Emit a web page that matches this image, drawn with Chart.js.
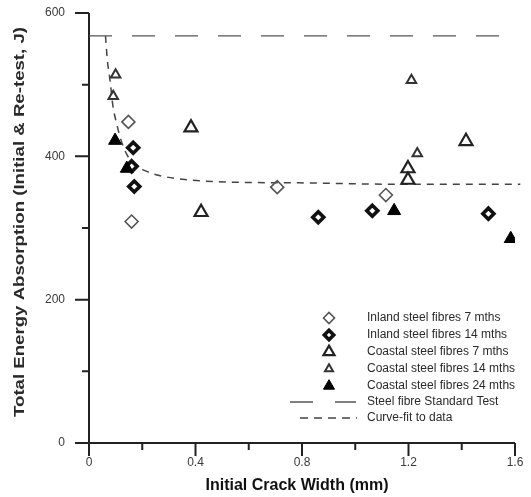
<!DOCTYPE html>
<html>
<head>
<meta charset="utf-8">
<script src="https://cdn.jsdelivr.net/npm/chart.js@4.4.1/dist/chart.umd.min.js"></script>
<style>
  html, body { margin: 0; padding: 0; background: #fff; }
  canvas { display: block; }
</style>
</head>
<body>
<canvas id="crackChart" width="531" height="497"></canvas>
<script>
  // values
  var inland7X = [0.148, 0.160, 0.707, 1.115];
  var inland7Y = [448, 309, 357, 346];
  var inland14X = [0.166, 0.160, 0.170, 0.861, 1.064, 1.500];
  var inland14Y = [412, 386, 358, 315, 324, 320];
  var coastal7X = [0.383, 0.421, 1.198, 1.198, 1.416];
  var coastal7Y = [440, 322, 383, 367, 421];
  var coastal14X = [0.100, 0.091, 1.211, 1.233];
  var coastal14Y = [514, 484, 506, 404];
  var coastal24X = [0.098, 0.142, 1.146, 1.584];
  var coastal24Y = [422, 383, 324, 285];
  var standardX = [0, 1.54];
  var standardY = [568, 568];
  var fitX = [0.062, 0.069, 0.079, 0.090, 0.105, 0.120, 0.143, 0.173, 0.210, 0.267, 0.379, 0.530, 0.790, 1.170, 1.620];
  var fitY = [568, 534, 506, 470, 444, 423, 402, 388, 380, 373, 367, 364, 363, 361, 361];

  var xMajor = [0, 0.4, 0.8, 1.2, 1.6];
  var xMinor = [0.2, 0.6, 1.0, 1.4];
  var yMajor = [0, 200, 400, 600];
  var yMinor = [100, 300, 500];

  var legendLabels = [
    'Inland steel fibres 7 mths',
    'Inland steel fibres 14 mths',
    'Coastal steel fibres 7 mths',
    'Coastal steel fibres 14 mths',
    'Coastal steel fibres 24 mths',
    'Steel fibre Standard Test',
    'Curve-fit to data'
  ];

  function pts(xs, ys) {
    return xs.map(function (x, i) { return { x: x, y: ys[i] }; });
  }

  Chart.defaults.font.family = "'Liberation Sans', Arial, sans-serif";
  Chart.defaults.font.size = 12;
  Chart.defaults.color = '#3a3a3a';

  var datasets = [
    { label: legendLabels[0], data: pts(inland7X, inland7Y), pointStyle: 'rectRot', pointRadius: 6.5,
      pointBorderWidth: 1.6, pointBorderColor: '#555', pointBackgroundColor: 'rgba(0,0,0,0)', order: 3 },
    { label: legendLabels[1], data: pts(inland14X, inland14Y), pointStyle: 'rectRot', pointRadius: 5.5,
      pointBorderWidth: 3.6, pointBorderColor: '#111', pointBackgroundColor: '#fff', order: 2 },
    { label: legendLabels[2], data: pts(coastal7X, coastal7Y), pointStyle: 'triangle', pointRadius: 7.5,
      pointBorderWidth: 2.2, pointBorderColor: '#222', pointBackgroundColor: 'rgba(0,0,0,0)', order: 3 },
    { label: legendLabels[3], data: pts(coastal14X, coastal14Y), pointStyle: 'triangle', pointRadius: 5.5,
      pointBorderWidth: 2, pointBorderColor: '#333', pointBackgroundColor: 'rgba(0,0,0,0)', order: 3 },
    { label: legendLabels[4], data: pts(coastal24X, coastal24Y), pointStyle: 'triangle', pointRadius: 7.5,
      pointBorderWidth: 1, pointBorderColor: '#000', pointBackgroundColor: '#000', order: 1 },
    { label: legendLabels[5], data: pts(standardX, standardY), showLine: true, pointRadius: 0,
      borderColor: '#555', borderWidth: 1.3, borderDash: [23, 20], order: 5 },
    { label: legendLabels[6], data: pts(fitX, fitY), showLine: true, pointRadius: 0, clip: false,
      borderColor: '#444', borderWidth: 1.5, borderDash: [7, 6], tension: 0.4,
      cubicInterpolationMode: 'monotone', order: 5 }
  ];

  function markerPath(ctx, style, r, x, y) {
    ctx.beginPath();
    if (style === 'rectRot') {
      ctx.moveTo(x - r, y); ctx.lineTo(x, y - r); ctx.lineTo(x + r, y); ctx.lineTo(x, y + r);
    } else {
      for (var k = 0; k < 3; k++) {
        var a = k * 2 * Math.PI / 3;
        var px = x + Math.sin(a) * r, py = y - Math.cos(a) * r;
        if (k === 0) ctx.moveTo(px, py); else ctx.lineTo(px, py);
      }
    }
    ctx.closePath();
  }

  var paperPlugin = {
    id: 'paperLook',
    beforeDatasetsDraw: function (chart) {
      var ctx = chart.ctx, xs = chart.scales.x, ys = chart.scales.y;
      var left = xs.getPixelForValue(0), right = xs.getPixelForValue(1.6);
      var bottom = ys.getPixelForValue(0), top = ys.getPixelForValue(600);
      ctx.save();
      ctx.strokeStyle = '#222';
      ctx.lineWidth = 2;
      ctx.beginPath();
      ctx.moveTo(left, top); ctx.lineTo(left, bottom); ctx.lineTo(right, bottom);
      xMajor.forEach(function (v) { var p = xs.getPixelForValue(v); ctx.moveTo(p, bottom); ctx.lineTo(p, bottom + 13); });
      xMinor.forEach(function (v) { var p = xs.getPixelForValue(v); ctx.moveTo(p, bottom); ctx.lineTo(p, bottom + 7); });
      yMajor.forEach(function (v) { var p = ys.getPixelForValue(v); ctx.moveTo(left, p); ctx.lineTo(left - 14, p); });
      yMinor.forEach(function (v) { var p = ys.getPixelForValue(v); ctx.moveTo(left, p); ctx.lineTo(left - 7, p); });
      ctx.stroke();
      ctx.restore();
    },
    afterDraw: function (chart) {
      var ctx = chart.ctx;
      ctx.save();
      ctx.fillStyle = '#111';
      // x title
      ctx.font = "bold 16px 'Liberation Sans', Arial, sans-serif";
      ctx.textAlign = 'center';
      ctx.textBaseline = 'middle';
      ctx.fillText('Initial Crack Width (mm)', 297, 486);
      // y title (scan is stretched along the axis)
      var yTitle = 'Total Energy Absorption (Initial & Re-test, J)';
      ctx.font = "bold 14px 'Liberation Sans', Arial, sans-serif";
      var w = ctx.measureText(yTitle).width;
      ctx.translate(20, 222);
      ctx.rotate(-Math.PI / 2);
      ctx.scale(390 / w, 1);
      ctx.fillStyle = '#2a2a2a';
      ctx.fillText(yTitle, 0, 0);
      ctx.restore();

      // legend inside plot
      ctx.save();
      var rowY = [318, 335, 352, 369, 386, 402, 418];
      ctx.font = "12px 'Liberation Sans', Arial, sans-serif";
      ctx.textBaseline = 'middle';
      ctx.textAlign = 'left';
      for (var i = 0; i < 5; i++) {
        var ds = datasets[i];
        var r = ds.pointRadius * 0.85;
        markerPath(ctx, ds.pointStyle, r, 329, rowY[i]);
        ctx.fillStyle = ds.pointBackgroundColor;
        ctx.fill();
        ctx.lineWidth = ds.pointBorderWidth;
        ctx.strokeStyle = ds.pointBorderColor;
        ctx.stroke();
      }
      ctx.strokeStyle = '#555';
      ctx.lineWidth = 1.3;
      ctx.setLineDash([23, 22]);
      ctx.beginPath(); ctx.moveTo(290, rowY[5]); ctx.lineTo(356, rowY[5]); ctx.stroke();
      ctx.strokeStyle = '#444';
      ctx.lineWidth = 1.5;
      ctx.setLineDash([8, 6]);
      ctx.beginPath(); ctx.moveTo(300, rowY[6]); ctx.lineTo(357, rowY[6]); ctx.stroke();
      ctx.setLineDash([]);
      ctx.fillStyle = '#2a2a2a';
      for (var j = 0; j < legendLabels.length; j++) {
        ctx.fillText(legendLabels[j], 367, rowY[j]);
      }
      ctx.restore();
    }
  };

  var ctxC = document.getElementById('crackChart').getContext('2d');
  var crackChart = new Chart(ctxC, {
    type: 'scatter',
    data: { datasets: datasets },
    plugins: [paperPlugin],
    options: {
      responsive: false,
      animation: false,
      layout: { padding: { top: 13, right: 16, left: 0, bottom: 0 } },
      plugins: { legend: { display: false }, tooltip: { enabled: false } },
      scales: {
        x: {
          type: 'linear', min: 0, max: 1.6,
          grid: { display: false, drawTicks: false },
          border: { display: false },
          afterBuildTicks: function (s) { s.ticks = xMajor.map(function (v) { return { value: v }; }); },
          afterFit: function (s) { s.height = 54; s.paddingLeft = 0; s.paddingRight = 0; },
          ticks: {
            padding: 12, maxRotation: 0, autoSkip: false,
            callback: function (v) { return v === 0 ? '0' : v.toFixed(1); }
          }
        },
        y: {
          type: 'linear', min: 0, max: 600,
          grid: { display: false, drawTicks: false },
          border: { display: false },
          afterBuildTicks: function (s) { s.ticks = yMajor.map(function (v) { return { value: v }; }); },
          afterFit: function (s) { s.width = 89; s.paddingTop = 0; s.paddingBottom = 0; },
          ticks: { padding: 24, autoSkip: false }
        }
      }
    }
  });
</script>
</body>
</html>
